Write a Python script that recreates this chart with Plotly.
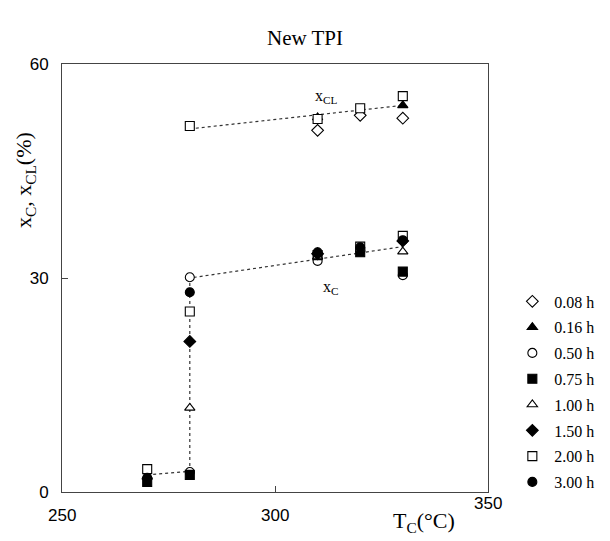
import plotly.graph_objects as go

# ---- data ----
series_names = ["0.08 h", "0.16 h", "0.50 h", "0.75 h", "1.00 h", "1.50 h", "2.00 h", "3.00 h"]
series_symbols = ["diamond", "triangle-up", "circle", "square", "triangle-up", "diamond", "square", "circle"]
series_filled = [False, True, False, True, False, True, False, True]

x_008 = [310, 320, 330]
y_008 = [50.7, 52.8, 52.4]
x_016 = [270, 310, 330]
y_016 = [2.1, 52.5, 54.2]
x_050 = [280, 280, 310, 320, 330]
y_050 = [30.1, 2.8, 32.4, 33.8, 30.4]
x_075 = [270, 280, 310, 320, 330]
y_075 = [1.4, 2.4, 33.2, 33.6, 30.9]
x_100 = [270, 280, 310, 330]
y_100 = [2.2, 11.8, 33.0, 33.7]
x_150 = [280, 310, 330]
y_150 = [21.1, 33.4, 35.2]
x_200 = [270, 280, 280, 310, 320, 320, 330, 330]
y_200 = [3.2, 25.3, 51.3, 52.3, 53.8, 34.4, 55.5, 35.9]
x_300 = [270, 280, 310, 320, 330]
y_300 = [2.0, 28.0, 33.6, 34.3, 35.3]

series_x = [x_008, x_016, x_050, x_075, x_100, x_150, x_200, x_300]
series_y = [y_008, y_016, y_050, y_075, y_100, y_150, y_200, y_300]

# trend lines (dotted)
xc_line_x = [270, 280, 280, 330]
xc_line_y = [2.4, 2.9, 30.0, 34.4]
xcl_line_x = [280, 330]
xcl_line_y = [50.9, 54.2]

x_tickvals = [250, 300, 350]
x_ticktext = ["250", "300", "350"]
x_label_shift = [-23, -23, -11]   # reference draws "350" a little higher
y_tickvals = [0, 30, 60]

SERIF = "Liberation Serif, Times New Roman, serif"
SANS = "Liberation Sans, Arial, sans-serif"

fig = go.Figure()

for lx, ly in [(xc_line_x, xc_line_y), (xcl_line_x, xcl_line_y)]:
    fig.add_trace(go.Scatter(x=lx, y=ly, mode="lines", showlegend=False,
                             line=dict(color="#333333", width=1.2, dash="dot"),
                             hoverinfo="skip"))

for i, name in enumerate(series_names):
    filled = series_filled[i]
    fig.add_trace(go.Scatter(
        x=series_x[i], y=series_y[i], mode="markers", name=name,
        legendgroup=name,
        marker=dict(symbol=series_symbols[i], size=9,
                    color="black" if filled else "white",
                    line=dict(color="black", width=1.1)),
    ))

axis_common = dict(showgrid=False, zeroline=False, showline=True, linecolor="#444444",
                   linewidth=1, mirror=True, ticks="inside", ticklen=6,
                   tickcolor="#444444")

fig.update_layout(
    width=610, height=541,
    margin=dict(l=62, r=121, t=64, b=49),
    paper_bgcolor="white", plot_bgcolor="white",
    title=dict(text="New TPI", x=0.5, xanchor="center", y=1 - 38 / 541, yanchor="middle",
               font=dict(family=SERIF, size=21, color="black")),
    xaxis=dict(range=[250, 350], tickvals=x_tickvals, ticktext=x_ticktext,
               showticklabels=False, **axis_common),
    yaxis=dict(range=[0, 60], tickvals=y_tickvals, ticktext=[str(v) for v in y_tickvals],
               tickfont=dict(family=SANS, size=17, color="black"), ticklabelstandoff=9,
               **axis_common),
    legend=dict(x=1.05, xanchor="left", y=0.485, yanchor="top",
                font=dict(family=SERIF, size=16, color="black"),
                tracegroupgap=2, bgcolor="rgba(0,0,0,0)", itemwidth=34),
    showlegend=True,
)

for v, t, s in zip(x_tickvals, x_ticktext, x_label_shift):
    fig.add_annotation(x=v, xref="x", y=0, yref="paper", yanchor="middle", yshift=s,
                       text=t, showarrow=False,
                       font=dict(family=SANS, size=17, color="black"))

# axis titles
fig.add_annotation(x=-37 / 427, xref="paper", y=(492 - 180) / 428, yref="paper",
                   xanchor="center", yanchor="middle",
                   text="x<sub>C</sub>, x<sub>CL</sub>(%)", textangle=-90, showarrow=False,
                   font=dict(family=SERIF, size=22, color="black"))
fig.add_annotation(x=(425 - 62) / 427, xref="paper", y=0, yref="paper",
                   xanchor="center", yanchor="middle", yshift=-30,
                   text="T<sub>C</sub>(°C)", showarrow=False,
                   font=dict(family=SERIF, size=22, color="black"))

# in-plot labels
fig.add_annotation(x=312, y=55.5, text="x<sub>CL</sub>", showarrow=False,
                   font=dict(family=SERIF, size=16, color="black"))
fig.add_annotation(x=313, y=28.6, text="x<sub>C</sub>", showarrow=False,
                   font=dict(family=SERIF, size=16, color="black"))

fig.write_html("out.html")
